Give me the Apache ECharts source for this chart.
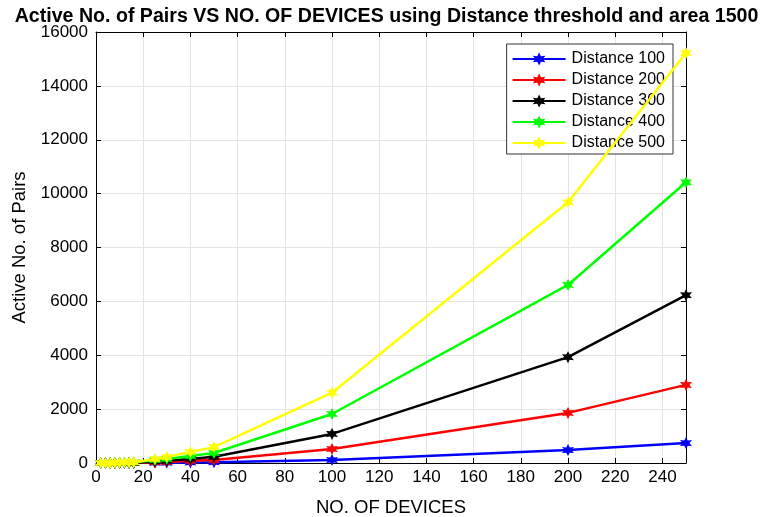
<!DOCTYPE html>
<html><head><meta charset="utf-8">
<script src="https://cdn.jsdelivr.net/npm/echarts@6/dist/echarts.min.js"></script>
<style>html,body{margin:0;padding:0;background:#fff}#c{width:773px;height:517px}</style>
</head><body><div id="c"></div>
<script>
const devices = [2, 4, 6, 8, 10, 12, 14, 16, 25, 30, 40, 50, 100, 200, 250];
const dist100 = [0, 0, 0, 1, 1, 1, 2, 2, 8, 10, 20, 30, 110, 480, 740];
const dist200 = [0, 0, 1, 2, 3, 4, 5, 6, 30, 40, 80, 110, 520, 1860, 2900];
const dist300 = [0, 1, 2, 3, 5, 7, 9, 12, 60, 80, 150, 230, 1080, 3930, 6230];
const dist400 = [0, 1, 3, 5, 8, 11, 15, 20, 110, 150, 260, 370, 1820, 6610, 10420];
const dist500 = [1, 2, 4, 8, 12, 17, 23, 30, 150, 220, 410, 590, 2610, 9680, 15220];
const seriesNames = ['Distance 100', 'Distance 200', 'Distance 300', 'Distance 400', 'Distance 500'];
const seriesData = [dist100, dist200, dist300, dist400, dist500];
const colors = ['#0000ff', '#ff0000', '#000000', '#00ff00', '#ffff00'];
const yTicks = [0, 2000, 4000, 6000, 8000, 10000, 12000, 14000, 16000];

const star = 'path://M0,-10L2.5,-4.3L8.7,-5L5,0L8.7,5L2.5,4.3L0,10L-2.5,4.3L-8.7,5L-5,0L-8.7,-5L-2.5,-4.3Z';
const font = 'Liberation Sans, Arial, sans-serif';
const tick = {show: true, inside: true, length: 5, lineStyle: {color: '#000', width: 1}};
const line = {show: true, onZero: false, lineStyle: {color: '#000', width: 1}};

const chart = echarts.init(document.getElementById('c'), null, {renderer: 'canvas'});
chart.setOption({
  animation: false,
  backgroundColor: '#fff',
  title: {
    text: 'Active No. of Pairs VS NO. OF DEVICES using Distance threshold and area 1500',
    left: 'center', top: 2,
    textStyle: {fontFamily: font, fontWeight: 'bold', fontSize: 19.6, color: '#000'}
  },
  legend: {
    data: seriesNames, orient: 'vertical', right: 100, top: 44,
    backgroundColor: '#fff', borderColor: '#333', borderWidth: 1,
    padding: [7, 8, 3, 5], itemGap: 5, itemWidth: 53, itemHeight: 16,
    textStyle: {fontFamily: font, fontSize: 16, color: '#000', padding: [0, 0, 0, 1]}
  },
  grid: {left: 96, right: 87, top: 32, bottom: 54, outerBoundsMode: 'none', containLabel: false},
  xAxis: [{
    type: 'value', min: 0, max: 250, interval: 20,
    name: 'NO. OF DEVICES', nameLocation: 'middle', nameGap: 35,
    nameTextStyle: {fontFamily: font, fontSize: 18.5, color: '#000'},
    axisLine: line, axisTick: tick,
    axisLabel: {fontFamily: font, fontSize: 17, color: '#000', showMaxLabel: false, margin: 6},
    splitLine: {show: true, lineStyle: {color: '#e3e3e3', width: 1}}
  }, {
    type: 'value', min: 0, max: 250, interval: 20, position: 'top',
    axisLine: line, axisTick: tick,
    axisLabel: {show: false}, splitLine: {show: false}
  }],
  yAxis: [{
    type: 'value', min: 0, max: 16000, interval: 2000,
    name: 'Active No. of Pairs', nameLocation: 'middle', nameGap: 59,
    nameTextStyle: {fontFamily: font, fontSize: 18.5, color: '#000'},
    axisLine: line, axisTick: tick,
    axisLabel: {fontFamily: font, fontSize: 17, color: '#000', margin: 8,
      formatter: v => yTicks.includes(v) ? String(v) : ''},
    splitLine: {show: true, lineStyle: {color: '#e3e3e3', width: 1}}
  }, {
    type: 'value', min: 0, max: 16000, interval: 2000, position: 'right',
    axisLine: line, axisTick: tick,
    axisLabel: {show: false}, splitLine: {show: false}
  }],
  series: seriesNames.map((name, i) => ({
    name, type: 'line', xAxisIndex: 0, yAxisIndex: 0,
    data: devices.map((d, j) => [d, seriesData[i][j]]),
    symbol: star, symbolSize: 12, showSymbol: true,
    lineStyle: {color: colors[i], width: 2.5},
    itemStyle: {color: colors[i]},
    z: 2 + i
  }))
});
</script></body></html>
